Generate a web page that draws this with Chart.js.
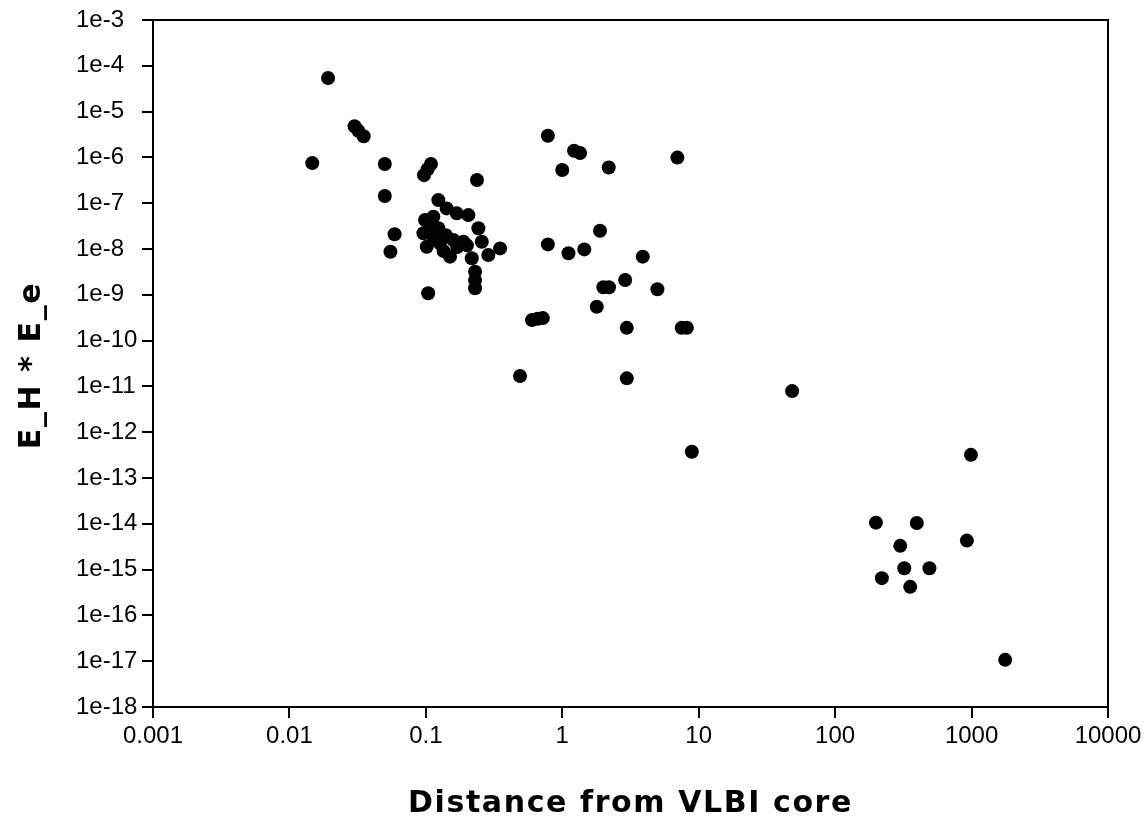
<!DOCTYPE html>
<html>
<head>
<meta charset="utf-8">
<script src="https://cdn.jsdelivr.net/npm/chart.js@4/dist/chart.umd.min.js"></script>
<style>
  html, body { margin: 0; padding: 0; background: #fff; }
  #wrap { width: 1146px; height: 822px; }
</style>
</head>
<body>
<div id="wrap"><canvas id="chart" width="1146" height="822"></canvas></div>
<script>
// distance from VLBI core
const distance = [
    0.0192, 0.0147, 0.030, 0.032, 0.035, 0.050, 0.050, 0.059, 0.055,
    0.097, 0.103, 0.109, 0.237, 0.104,
    // dense group around 0.1 - 0.3
    0.1235, 0.142, 0.1685, 0.205, 0.2427, 0.257, 0.350, 0.287, 0.217,
    0.2295, 0.2295, 0.2295,
    0.0987, 0.096, 0.1015, 0.1235, 0.127, 0.1504, 0.159, 0.1884, 0.1135,
    0.110, 0.140, 0.115, 0.170, 0.135, 0.108, 0.200,
    // 0.5 - 10
    0.784, 1.22, 1.35, 1.0, 2.19, 6.98, 0.784, 1.11, 1.45, 1.89, 3.89,
    2.89, 2.0, 2.2, 4.98, 1.79, 2.97, 7.5, 8.2, 0.60, 0.66, 0.72,
    0.49, 2.97, 48.4, 8.9,
    // far group
    989, 199, 397, 300, 924, 321, 491, 220, 355, 1763
];
// E_H * E_e
const eProduct = [
    5.4e-5, 7.5e-7, 4.8e-6, 3.8e-6, 2.9e-6, 7.2e-7, 1.44e-7, 2.1e-8, 8.7e-9,
    4.1e-7, 5.5e-7, 7.2e-7, 3.2e-7, 1.08e-9,
    1.17e-7, 7.7e-8, 6.0e-8, 5.5e-8, 2.83e-8, 1.44e-8, 1.03e-8, 7.4e-9, 6.3e-9,
    3.2e-9, 2.1e-9, 1.39e-9,
    4.3e-8, 2.2e-8, 1.12e-8, 2.83e-8, 1.33e-8, 6.8e-9, 1.57e-8, 1.44e-8, 5.07e-8,
    3.2e-8, 2.0e-8, 1.6e-8, 1.1e-8, 9.0e-9, 2.5e-8, 1.2e-8,
    2.98e-6, 1.4e-6, 1.25e-6, 5.3e-7, 6.0e-7, 9.9e-7, 1.26e-8, 8.1e-9, 9.8e-9, 2.5e-8, 6.8e-9,
    2.1e-9, 1.46e-9, 1.46e-9, 1.32e-9, 5.5e-10, 1.9e-10, 1.9e-10, 1.9e-10, 2.8e-10, 3.0e-10, 3.1e-10,
    1.69e-11, 1.5e-11, 7.9e-12, 3.75e-13,
    3.2e-13, 1.06e-14, 1.04e-14, 3.3e-15, 4.3e-15, 1.07e-15, 1.07e-15, 6.5e-16, 4.2e-16, 1.07e-17
];

const xTicks = [0.001, 0.01, 0.1, 1, 10, 100, 1000, 10000];
const xTickLabels = ['0.001', '0.01', '0.1', '1', '10', '100', '1000', '10000'];
const yTicks = [1e-3, 1e-4, 1e-5, 1e-6, 1e-7, 1e-8, 1e-9, 1e-10, 1e-11, 1e-12, 1e-13, 1e-14, 1e-15, 1e-16, 1e-17, 1e-18];
const yTickLabels = ['1e-3', '1e-4', '1e-5', '1e-6', '1e-7', '1e-8', '1e-9', '1e-10', '1e-11', '1e-12', '1e-13', '1e-14', '1e-15', '1e-16', '1e-17', '1e-18'];

const xTitle = 'Distance from VLBI core';
const yTitle = 'E_H * E_e';

// frame around plot area + axis titles (letter spacing needs raw canvas)
const framePlugin = {
    id: 'frame',
    afterDraw(chart) {
        const ctx = chart.ctx;
        const a = chart.chartArea;
        ctx.save();
        ctx.strokeStyle = '#000';
        ctx.lineWidth = 2;
        ctx.strokeRect(a.left, a.top, a.right - a.left, a.bottom - a.top);

        ctx.fillStyle = '#000';
        ctx.font = 'bold 30px "DejaVu Sans"';
        ctx.letterSpacing = '1.6px';
        ctx.textAlign = 'center';
        ctx.textBaseline = 'alphabetic';
        ctx.fillText(xTitle, (a.left + a.right) / 2, 812);

        ctx.translate(40, (a.top + a.bottom) / 2 + 2);
        ctx.rotate(-Math.PI / 2);
        ctx.fillText(yTitle, 0, 0);
        ctx.restore();
    }
};

const ctx = document.getElementById('chart').getContext('2d');
const chart = new Chart(ctx, {
    type: 'scatter',
    data: {
        datasets: [{
            data: distance.map((d, i) => ({ x: d, y: eProduct[i] })),
            backgroundColor: '#000',
            borderColor: '#000',
            borderWidth: 0,
            pointRadius: 7,
            pointHoverRadius: 7
        }]
    },
    options: {
        responsive: false,
        animation: false,
        layout: {
            padding: { left: 76, top: 20, right: 38, bottom: 0 }
        },
        plugins: {
            legend: { display: false },
            tooltip: { enabled: false }
        },
        scales: {
            x: {
                type: 'logarithmic',
                min: 0.001,
                max: 10000,
                afterBuildTicks: (scale) => { scale.ticks = xTicks.map(v => ({ value: v })); },
                afterFit: (scale) => { scale.height = 115; },
                border: { display: true, color: '#000', width: 2 },
                grid: { drawOnChartArea: false, drawTicks: true, tickLength: 11, color: '#000', lineWidth: 2 },
                ticks: {
                    autoSkip: false,
                    maxRotation: 0,
                    padding: 4,
                    color: '#000',
                    font: { family: '"Liberation Sans", Arial, sans-serif', size: 24 },
                    callback: (value, index) => xTickLabels[index]
                }
            },
            y: {
                type: 'logarithmic',
                min: 1e-18,
                max: 1e-3,
                afterBuildTicks: (scale) => { scale.ticks = yTicks.map(v => ({ value: v })); },
                afterFit: (scale) => { scale.width = 77; },
                border: { display: true, color: '#000', width: 2 },
                grid: { drawOnChartArea: false, drawTicks: true, tickLength: 11, color: '#000', lineWidth: 2 },
                ticks: {
                    autoSkip: false,
                    crossAlign: 'far',
                    color: '#000',
                    font: { family: '"Liberation Sans", Arial, sans-serif', size: 24 },
                    callback: (value, index) => yTickLabels[index]
                }
            }
        }
    },
    plugins: [framePlugin]
});
</script>
</body>
</html>
